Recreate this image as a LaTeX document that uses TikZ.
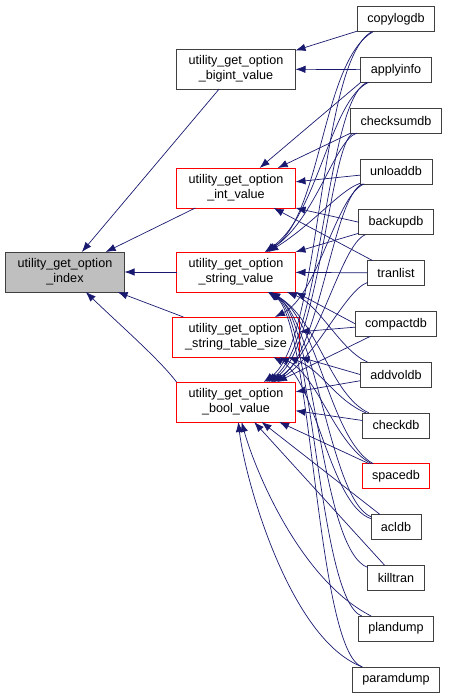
\documentclass[tikz,border=0pt]{standalone}
\usepackage{fontspec}
\setmainfont{Liberation Sans}
\usetikzlibrary{arrows.meta,positioning}
\definecolor{edgeblue}{HTML}{191970}
\definecolor{boxgray}{HTML}{BFBFBF}
\definecolor{boxred}{HTML}{FF0000}

\begin{document}
\begin{tikzpicture}[
    x=1pt,y=-1pt,
    node distance=25.8pt and 52pt,
    fn/.style={draw=black!75,line width=0.8pt,outer sep=0pt,minimum height=40pt,minimum width=119pt,align=center,font=\fontsize{12.6}{15}\selectfont,inner sep=2pt},
    caller/.style={draw=black!75,line width=0.8pt,outer sep=0pt,minimum height=25pt,inner xsep=10pt,inner ysep=2pt,font=\fontsize{12.6}{15}\selectfont},
    redbox/.style={draw=boxred},
    arrow/.style={-{Latex[length=10pt,width=7.5pt]},draw=edgeblue,line width=0.7pt}
]
\useasboundingbox (0,0) rectangle (449,696);
% functions
\node[fn] (bigint) at (236,69) {utility\_get\_option\\\_bigint\_value};
\node[fn,redbox] (intval) at (236,188) {utility\_get\_option\\\_int\_value};
\node[fn,redbox] (strval) at (236,272) {utility\_get\_option\\\_string\_value};
\node[fn,redbox,minimum width=127pt] (strsize) at (236,337) {utility\_get\_option\\\_string\_table\_size};
\node[fn,redbox] (boolval) at (236,402) {utility\_get\_option\\\_bool\_value};
\node[fn,fill=boxgray,left=of strval] (index) {utility\_get\_option\\\_index};
% callers
\node[caller] (copylogdb) at (396,19) {copylogdb};
\node[caller,below=of copylogdb] (applyinfo) {applyinfo};
\node[caller,below=of applyinfo] (checksumdb) {checksumdb};
\node[caller,below=of checksumdb] (unloaddb) {unloaddb};
\node[caller,below=of unloaddb] (backupdb) {backupdb};
\node[caller,below=of backupdb] (tranlist) {tranlist};
\node[caller,below=of tranlist] (compactdb) {compactdb};
\node[caller,below=of compactdb] (addvoldb) {addvoldb};
\node[caller,below=of addvoldb] (checkdb) {checkdb};
\node[caller,redbox,below=of checkdb] (spacedb) {spacedb};
\node[caller,below=of spacedb] (acldb) {acldb};
\node[caller,below=of acldb] (killtran) {killtran};
\node[caller,below=of killtran] (plandump) {plandump};
\node[caller,below=of plandump] (paramdump) {paramdump};
% into index
\draw[arrow] (bigint) -- (index);
\draw[arrow] (intval) -- (index);
\draw[arrow] (strval) -- (index);
\draw[arrow] (strsize) -- (index);
\draw[arrow] (boolval.north west) .. controls (160,360) and (120,325) .. (index);
% upper callers
\draw[arrow] (copylogdb) -- (bigint);
\draw[arrow] (copylogdb) .. controls (322,60) and (322,215) .. (strval);
\draw[arrow] (copylogdb) .. controls (318,60) and (322,340) .. (boolval);
\draw[arrow] (applyinfo) -- (bigint);
\draw[arrow] (applyinfo.south west) -- (intval);
\draw[arrow] (applyinfo) .. controls (330,100) and (318,215) .. (strval);
\draw[arrow] (applyinfo) .. controls (326,100) and (322,345) .. (boolval);
\draw[arrow] (checksumdb.south west) -- (intval);
\draw[arrow] (checksumdb) .. controls (335,140) and (315,220) .. (strval);
\draw[arrow] (checksumdb) .. controls (330,140) and (320,350) .. (boolval);
\draw[arrow] (unloaddb) -- (intval);
\draw[arrow] (unloaddb) .. controls (340,190) and (312,225) .. (strval);
\draw[arrow] (unloaddb) .. controls (336,195) and (318,295) .. (strsize);
\draw[arrow] (unloaddb) .. controls (333,195) and (320,355) .. (boolval);
\draw[arrow] (backupdb.west) -- (intval.south east);
\draw[arrow] (backupdb) -- (strval.north east);
\draw[arrow] (backupdb) .. controls (340,245) and (318,355) .. (boolval);
\draw[arrow] (tranlist) -- (intval);
\draw[arrow] (tranlist) -- (strval);
\draw[arrow] (tranlist) .. controls (345,290) and (315,360) .. (boolval);
% lower callers
\draw[arrow] (compactdb.west) -- (strval.south east);
\draw[arrow] (compactdb) -- (strsize);
\draw[arrow] (compactdb) -- (boolval);
\draw[arrow] (addvoldb.west) -- (strsize.south east);
\draw[arrow] (addvoldb) -- (boolval);
\draw[arrow] (addvoldb) .. controls (340,350) and (320,305) .. (strval);
\draw[arrow] (checkdb) -- (boolval);
\draw[arrow] (checkdb) .. controls (330,395) and (318,320) .. (strval);
\draw[arrow] (checkdb) .. controls (335,400) and (322,370) .. (strsize);
\draw[arrow] (spacedb) -- (boolval);
\draw[arrow] (spacedb) .. controls (330,440) and (318,320) .. (strval);
\draw[arrow] (spacedb) .. controls (335,445) and (318,375) .. (strsize);
\draw[arrow] (acldb) -- (boolval);
\draw[arrow] (acldb) .. controls (330,500) and (316,320) .. (strval);
\draw[arrow] (acldb) .. controls (330,505) and (316,380) .. (strsize);
\draw[arrow] (killtran) -- (boolval);
\draw[arrow] (killtran) .. controls (320,550) and (316,320) .. (strval);
\draw[arrow] (plandump) .. controls (300,580) and (255,470) .. (boolval);
\draw[arrow] (plandump) .. controls (318,600) and (314,320) .. (strval);
\draw[arrow] (paramdump) .. controls (290,640) and (245,480) .. (boolval);
\draw[arrow] (paramdump) .. controls (316,650) and (312,320) .. (strval);
\end{tikzpicture}
\end{document}
